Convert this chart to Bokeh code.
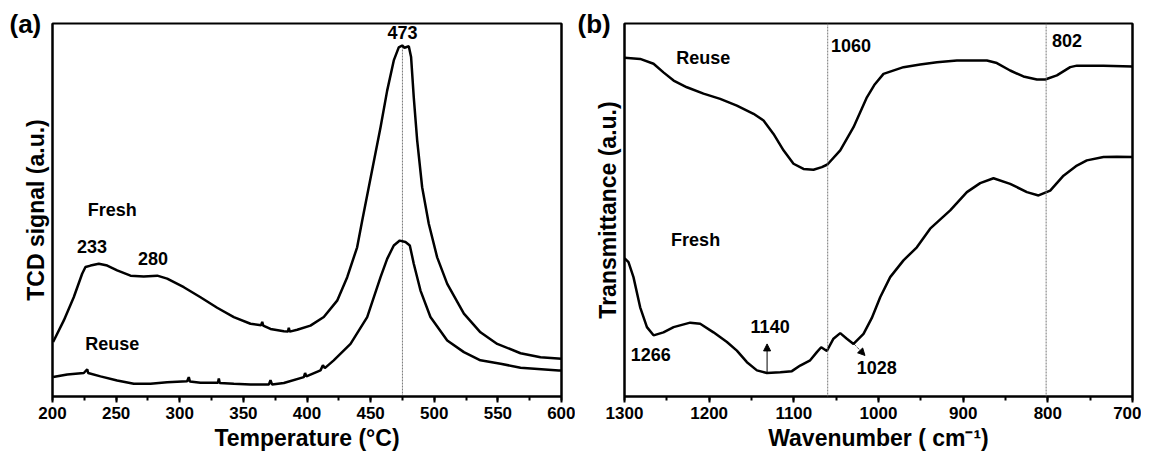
from bokeh.plotting import figure
from bokeh.models import (Range1d, Label, Span, Arrow, NormalHead, SingleIntervalTicker,
                          FixedTicker, LinearAxis, Title)
from bokeh.layouts import row
from bokeh.embed import file_html
from bokeh.resources import INLINE

# ---------------- Panel (a): TPR ----------------
tpr_T = [200.5, 208.9, 216.7, 223.3, 225.9, 229.9, 236.4, 243, 250.8, 261.3, 271.7, 282.3, 290.1,
         303.2, 316.3, 329.4, 342.5, 355.6, 364, 364.8, 365.6, 371.3, 381.8, 385, 385.7, 386.4,
         392.3, 402.7, 413.2, 423.7, 431.6, 439.4, 443.4, 457.8, 463, 468.2, 472.1, 474.8, 476.6,
         480, 481.8, 483.9, 486.6, 490.5, 495.7, 502.3, 510.2, 523.3, 536.3, 549.5, 567.8, 583.5,
         600]
tpr_fresh = [14.6, 20.4, 26.6, 32.9, 34.7, 35.1, 35.6, 35.1, 33.8, 32.4, 32.2, 32.4, 31.6,
             29.3, 26.6, 23.8, 21.3, 19.5, 19.1, 20.0, 19.0, 18.1, 17.5, 17.4, 18.4, 17.4,
             17.9, 19.0, 21.3, 25.7, 32.0, 40.0, 47.2, 72.2, 82.0, 90.1, 93.6, 94.1, 93.5,
             93.9, 91.0, 80.2, 68.6, 56.1, 46.3, 37.3, 30.2, 22.2, 17.2, 14.1, 11.6, 10.5,
             10.1]
tpr_T_reuse = [200.5, 211.6, 224.6, 227.3, 228, 237.7, 250.8, 263.9, 277, 290.1, 305.8, 307.1,
               308, 316.3, 330, 330.7, 331.4, 342.5, 355.6, 370, 371.3, 372.6, 381.8, 397.5,
               398.5, 399.5, 410.6, 412.5, 414, 421, 434.2, 447.3, 457.8, 463, 468.2, 472.9,
               477.4, 480.8, 483.9, 489.2, 497, 510.2, 523.3, 536.3, 552.1, 567.8, 597.9, 600]
tpr_reuse = [5.2, 5.9, 6.3, 7.3, 6.3, 5.4, 4.3, 3.4, 3.4, 3.8, 4.1, 5.2, 4.0, 3.7, 3.7, 4.8,
             3.6, 3.4, 3.2, 3.2, 4.4, 3.2, 3.6, 5.2, 6.3, 5.4, 7.0, 8.4, 7.6, 9.7, 14.1, 21.3,
             32.0, 36.9, 40.5, 41.8, 41.4, 40.5, 35.6, 28.4, 21.3, 15.0, 11.9, 9.7, 8.8, 7.7,
             7.0, 7.0]
tpr_peak_T = 475
tpr_peak_top = 94

# ---------------- Panel (b): FTIR ----------------
ir_W_reuse = [1300, 1281.5, 1265.7, 1254, 1242, 1226.3, 1206.7, 1187, 1167.3, 1147.6, 1135.8,
              1124, 1112.2, 1100.4, 1088.6, 1076.8, 1066.9, 1060.3, 1045.2, 1029.5, 1013.7,
              1005, 994.1, 970.5, 950.8, 931, 907.4, 872, 860.2, 844.5, 828.8, 812.9, 803.1,
              789.3, 773.6, 765.7, 734.3, 700]
ir_reuse = [90.8, 90.5, 89.2, 86.9, 84.7, 82.9, 81.2, 79.8, 78.0, 75.8, 74.0,
            70.4, 66.0, 62.4, 61.0, 60.8, 61.5, 62.2, 66.0, 72.2, 80.2,
            83.5, 86.5, 88.3, 89.0, 89.6, 90.1, 90.1, 89.4, 87.4, 85.8, 85.0, 85.0,
            86.1, 88.3, 88.7, 88.7, 88.5]
ir_W_fresh = [1300, 1299.2, 1295.3, 1289.4, 1281.5, 1273.5, 1265.7, 1254, 1242, 1222.4, 1210.6,
              1194.9, 1179, 1167.3, 1155.4, 1143.6, 1131.8, 1116, 1102.3, 1092.5, 1080.7,
              1072.8, 1067.7, 1061, 1053.2, 1045.2, 1037.4, 1029.5, 1017.7, 1008, 998, 986.2,
              970.5, 954.7, 939, 915.3, 895.6, 879.9, 864.2, 844.5, 824.7, 811, 797.2, 781.5,
              765.7, 753.9, 734.3, 718.5, 700]
ir_fresh = [37.0, 36.9, 36.0, 32.0, 23.9, 18.6, 16.4, 17.2, 18.6, 19.8, 19.5,
            17.2, 14.6, 12.3, 9.2, 7.0, 6.3, 6.5, 6.8, 8.3, 9.7,
            11.9, 13.2, 12.2, 15.5, 17.0, 15.5, 14.1, 16.8, 21.0, 26.6, 32.0,
            36.5, 40.0, 45.0, 49.9, 54.8, 57.2, 58.5, 57.0, 54.8, 53.9, 55.2, 59.2,
            61.9, 63.3, 64.2, 64.3, 64.2]
ir_marks = [1060, 802]

FONT = "Liberation Sans"


def style(p, xlabel, ylabel):
    p.background_fill_color = "white"
    p.border_fill_color = "white"
    p.xgrid.visible = False
    p.ygrid.visible = False
    p.outline_line_color = "black"
    p.outline_line_width = 2
    for ax in (p.xaxis[0], p.yaxis[0]):
        ax.axis_line_width = 2
        ax.axis_line_color = "black"
        ax.major_tick_line_width = 2
        ax.minor_tick_line_width = 2
        ax.major_tick_in = 0
        ax.minor_tick_in = 0
        ax.major_tick_out = 6
        ax.minor_tick_out = 4
        ax.major_label_text_font = FONT
        ax.major_label_text_font_style = "bold"
        ax.major_label_text_font_size = "17px"
        ax.major_label_text_color = "black"
        ax.axis_label_text_font = FONT
        ax.axis_label_text_font_style = "bold"
        ax.axis_label_text_font_size = "23px"
        ax.axis_label_text_color = "black"
    p.xaxis.axis_label = xlabel
    p.yaxis.axis_label = ylabel
    p.xaxis.major_label_standoff = 4
    p.xaxis.axis_label_standoff = 3
    p.yaxis.ticker = FixedTicker(ticks=[])
    p.yaxis.axis_label_standoff = 4
    p.add_layout(LinearAxis(ticker=FixedTicker(ticks=[]), axis_line_width=2,
                            axis_line_color="black"), "right")


def lab(p, x, y, t, size="18px", align="center"):
    p.add_layout(Label(x=x, y=y, text=t, text_font=FONT, text_font_style="bold",
                       text_font_size=size, text_align=align, text_baseline="middle",
                       text_color="black"))


def corner(p, t, off):
    p.title = Title(text=t, align="left", offset=off, standoff=-30, vertical_align="bottom",
                    text_font=FONT, text_font_style="bold", text_font_size="26px",
                    text_color="black")


H = 457
# Panel (a)
p1 = figure(width=575, height=H, output_backend="svg", toolbar_location=None,
            x_range=Range1d(200, 600), y_range=Range1d(0, 100),
            min_border_left=52, min_border_right=14, min_border_top=23, min_border_bottom=H - 396)
style(p1, "Temperature (°C)", "TCD signal (a.u.)")
corner(p1, "(a)", -43)
p1.xaxis[0].ticker = SingleIntervalTicker(interval=50, num_minor_ticks=2)
p1.segment(x0=[tpr_peak_T], y0=[0], x1=[tpr_peak_T], y1=[tpr_peak_top],
           line_color="#777777", line_width=1, line_dash="2 1")
p1.line(tpr_T, tpr_fresh, line_color="black", line_width=2.5)
p1.line(tpr_T_reuse, tpr_reuse, line_color="black", line_width=2.5)
lab(p1, 475, 97.6, "473")
lab(p1, 247, 50, "Fresh")
lab(p1, 231, 40.2, "233")
lab(p1, 279, 37, "280")
lab(p1, 247, 14.1, "Reuse")

# Panel (b)
p2 = figure(width=566, height=H, output_backend="svg", toolbar_location=None,
            x_range=Range1d(1300, 700), y_range=Range1d(0, 100),
            min_border_left=49, min_border_right=9, min_border_top=23, min_border_bottom=H - 396)
style(p2, "Wavenumber ( cm⁻¹)", "Transmittance (a.u.)")
corner(p2, "(b)", -47)
p2.xaxis[0].ticker = SingleIntervalTicker(interval=100, num_minor_ticks=2)
for w in ir_marks:
    p2.add_layout(Span(location=w, dimension="height", line_color="#777777",
                       line_width=1, line_dash="2 1"))
p2.line(ir_W_reuse, ir_reuse, line_color="black", line_width=2.5)
p2.line(ir_W_fresh, ir_fresh, line_color="black", line_width=2.5)
lab(p2, 1056, 94, "1060", align="left")
lab(p2, 795, 95.4, "802", align="left")
lab(p2, 1207, 90.7, "Reuse")
lab(p2, 1216, 42, "Fresh")
lab(p2, 1269, 11.25, "1266")
lab(p2, 1128, 18.75, "1140")
lab(p2, 1002, 7.9, "1028")
p2.add_layout(Arrow(end=NormalHead(size=7, fill_color="black", line_color="black"),
                    x_start=1131.6, y_start=6.5, x_end=1131.6, y_end=14.1,
                    line_color="black", line_width=1))
p2.add_layout(Arrow(end=NormalHead(size=7, fill_color="black", line_color="black"),
                    x_start=1029, y_start=14.1, x_end=1016, y_end=11,
                    line_color="black", line_width=1, line_dash="1 1"))

layout = row(p1, p2)
open("out.html", "w").write(file_html(layout, INLINE))
